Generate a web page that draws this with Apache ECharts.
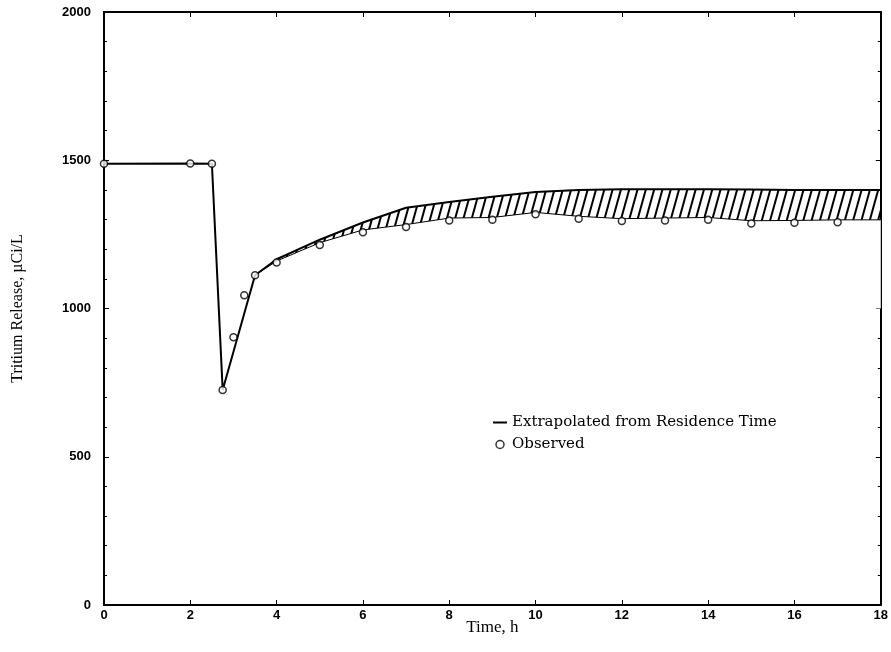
<!DOCTYPE html>
<html>
<head>
<meta charset="utf-8">
<script src="https://cdn.jsdelivr.net/npm/echarts@6/dist/echarts.min.js"></script>
<style>html,body{margin:0;padding:0;background:#fff;}#c{width:891px;height:652px;}</style>
</head>
<body>
<div id="c"></div>
<script>
// Extrapolated from Residence Time (solid line)
const extrapX = [0, 2, 2.5, 2.75, 3.5, 4, 5, 6, 7, 8, 9, 10, 11, 12, 13, 14, 15, 16, 17, 18];
const extrapY = [1488, 1489, 1488, 725, 1112, 1166, 1232, 1290, 1340, 1359, 1377, 1393, 1400, 1402, 1402, 1402, 1401, 1400, 1400, 1400];

// Observed (circles)
const obsX = [0, 2, 2.5, 2.75, 3, 3.25, 3.5, 4, 5, 6, 7, 8, 9, 10, 11, 12, 13, 14, 15, 16, 17];
const obsY = [1488, 1489, 1488, 725, 903, 1045, 1112, 1155, 1214, 1257, 1275, 1297, 1299, 1318, 1303, 1295, 1297, 1299, 1287, 1289, 1291];

// Hatched band between the observed trend and the extrapolated curve
const bandX = [3.5, 4, 5, 6, 7, 8, 9, 10, 11, 12, 13, 14, 15, 16, 17, 18];
const bandLower = [1112, 1160, 1222, 1265, 1283, 1305, 1307, 1324, 1311, 1303, 1305, 1307, 1296, 1297, 1299, 1299];
const bandUpper = [1112, 1166, 1232, 1290, 1340, 1359, 1377, 1393, 1400, 1402, 1402, 1402, 1401, 1400, 1400, 1400];

const xTicks = [0, 2, 4, 6, 8, 10, 12, 14, 16, 18];
const yTicks = [0, 500, 1000, 1500, 2000];

const zip = (a, b) => a.map((v, i) => [v, b[i]]);

const chart = echarts.init(document.getElementById('c'), null, {renderer: 'canvas'});
const tickFont = {fontFamily: 'Liberation Sans', fontWeight: 'bold', fontSize: 13, color: '#000'};
const serif = 'Liberation Serif';

function axis(extra) {
  return Object.assign({
    type: 'value',
    nameMoveOverlap: false,
    axisLine: {show: true, onZero: false, lineStyle: {color: '#000', width: 2}},
    axisTick: {inside: true, length: 5, lineStyle: {color: '#000', width: 1}},
    splitLine: {show: false}
  }, extra);
}

chart.setOption({
  animation: false,
  backgroundColor: '#fff',
  grid: {left: 104, right: 6, top: 12, bottom: 47},
  xAxis: [
    axis({
      min: xTicks[0], max: xTicks[xTicks.length - 1], interval: 2, position: 'bottom',
      name: 'Time, h', nameLocation: 'middle', nameGap: 23,
      nameTextStyle: {fontFamily: serif, fontSize: 17, color: '#000', verticalAlign: 'middle'},
      axisLabel: Object.assign({margin: 4, formatter: v => String(v)}, tickFont)
    }),
    axis({
      min: xTicks[0], max: xTicks[xTicks.length - 1], interval: 2, position: 'top',
      axisLabel: {show: false}
    })
  ],
  yAxis: [
    axis({
      min: yTicks[0], max: yTicks[yTicks.length - 1], interval: 500, position: 'left',
      name: 'Tritium Release, \u00b5Ci/L', nameLocation: 'middle', nameGap: 86,
      nameTextStyle: {fontFamily: serif, fontSize: 16, color: '#000', verticalAlign: 'middle'},
      minorTick: {show: true, splitNumber: 5, length: 3, lineStyle: {color: '#000', width: 1}},
      axisLabel: Object.assign({margin: 13, formatter: v => String(v)}, tickFont)
    }),
    axis({
      min: yTicks[0], max: yTicks[yTicks.length - 1], interval: 500, position: 'right',
      minorTick: {show: true, splitNumber: 5, length: 3, lineStyle: {color: '#000', width: 1}},
      axisLabel: {show: false}
    })
  ],
  legend: {
    orient: 'vertical', left: 488, top: 410, itemGap: 7,
    itemWidth: 14, itemHeight: 8,
    textStyle: {fontFamily: 'DejaVu Serif', fontSize: 15, color: '#000'},
    data: [
      {name: 'Extrapolated from Residence Time', icon: 'path://M0,0H14V2H0Z', itemStyle: {color: '#000'}},
      {name: 'Observed', icon: 'circle', itemStyle: {color: '#fff', borderColor: '#000', borderWidth: 1.5}}
    ]
  },
  series: [
    {
      name: 'bandHatch', type: 'line', data: zip(bandX, bandUpper), symbol: 'none', silent: true,
      lineStyle: {width: 0, opacity: 0},
      areaStyle: {color: 'rgba(0,0,0,0)', opacity: 1, origin: 1060},
      itemStyle: {
        color: 'rgba(0,0,0,0)',
        decal: {symbol: 'rect', symbolSize: 1, color: '#000', backgroundColor: null,
                dashArrayX: [1, 0], dashArrayY: [1.6, 5.6], rotation: -1.3}
      },
      z: 1
    },
    {
      name: 'bandMask', type: 'line', data: zip(bandX, bandLower), symbol: 'none', silent: true,
      lineStyle: {color: '#000', width: 1},
      areaStyle: {color: '#fff', opacity: 1, origin: 1000},
      z: 2
    },
    {
      name: 'Extrapolated from Residence Time', type: 'line', data: zip(extrapX, extrapY), symbol: 'none',
      lineStyle: {color: '#000', width: 2}, itemStyle: {color: '#000'}, z: 3
    },
    {
      name: 'Observed', type: 'scatter', data: zip(obsX, obsY), symbol: 'circle', symbolSize: 7,
      itemStyle: {color: '#fff', borderColor: '#000', borderWidth: 1.5}, z: 4
    }
  ]
});
</script>
</body>
</html>
